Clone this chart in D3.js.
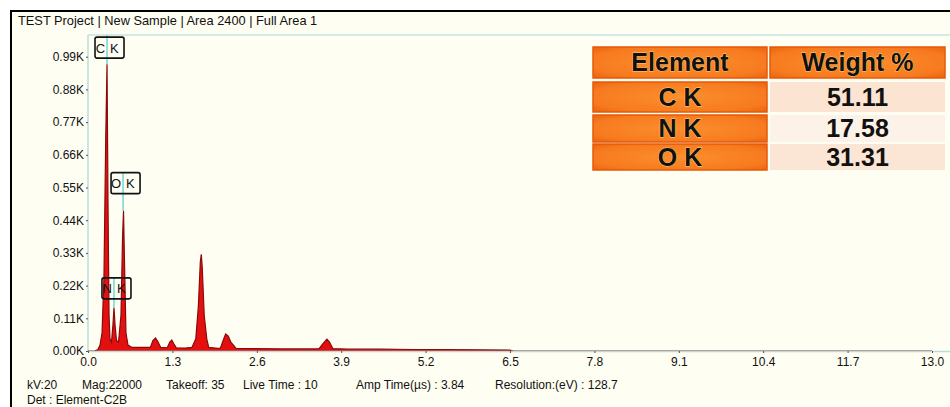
<!DOCTYPE html>
<html><head><meta charset="utf-8">
<script src="https://cdn.jsdelivr.net/npm/d3@7"></script>
<style>
html,body{margin:0;padding:0;background:#fff;}
svg{display:block;}
</style></head>
<body>
<script>
// ---------- DATA ----------
const titleText = "TEST Project | New Sample | Area 2400 | Full Area 1";
const xTicks = [0.0, 1.3, 2.6, 3.9, 5.2, 6.5, 7.8, 9.1, 10.4, 11.7, 13.0];
const yTicks = [0.00, 0.11, 0.22, 0.33, 0.44, 0.55, 0.66, 0.77, 0.88, 0.99];
// spectrum: energy (keV) and counts (K)
const energy = [0.00,0.10,0.154,0.185,0.216,0.246,0.272,0.293,0.308,0.324,0.339,0.362,0.385,0.400,0.416,0.439,0.470,0.508,0.532,0.547,0.562,0.585,0.616,0.678,
  0.80,0.96,1.00,1.04,1.08,1.12,1.22,1.26,1.29,1.32,1.36,1.50,1.60,1.66,1.70,1.73,1.745,1.76,1.79,1.83,1.86,
  2.00,2.04,2.08,2.12,2.16,2.20,2.24,2.28,2.50,3.00,3.50,3.56,3.62,3.68,3.72,3.77,4.00,4.50,5.00,5.50,6.00,6.50,6.55,13.0];
const counts = [0.000,0.000,0.005,0.020,0.060,0.250,0.700,0.965,0.500,0.120,0.040,0.030,0.090,0.145,0.090,0.035,0.030,0.120,0.380,0.472,0.300,0.060,0.020,0.012,
  0.012,0.012,0.035,0.044,0.030,0.012,0.011,0.030,0.037,0.025,0.011,0.010,0.012,0.040,0.150,0.300,0.325,0.280,0.120,0.040,0.012,
  0.009,0.010,0.035,0.057,0.050,0.030,0.020,0.009,0.008,0.007,0.007,0.008,0.025,0.040,0.030,0.008,0.006,0.006,0.005,0.005,0.004,0.003,0.000,0.000];
// peak labels
const peakNames = ["C K", "O K", "N K"];
const peakEnergy = [0.293, 0.540, 0.400];
const peakHeight = [0.965, 0.472, 0.145];
const labelLevel = [1.056, 0.600, 0.246];
// result table
const tableHeader = ["Element", "Weight %"];
const tableElements = ["C K", "N K", "O K"];
const tableWeights = ["51.11", "17.58", "31.31"];
// footer
const footer1 = ["kV:20", "Mag:22000", "Takeoff: 35", "Live Time : 10", "Amp Time(\u00b5s) : 3.84", "Resolution:(eV) : 128.7"];
const footer2 = "Det : Element-C2B";

// ---------- DRAW ----------
const W = 950, H = 407;
const svg = d3.select("body").append("svg").attr("width", W).attr("height", H);

svg.append("rect").attr("x", 0).attr("y", 0).attr("width", W).attr("height", H).attr("fill", "#ffffff");
svg.append("rect").attr("x", 10).attr("y", 10).attr("width", W - 10).attr("height", H - 10).attr("fill", "#fffef3");
svg.append("line").attr("x1", 10).attr("x2", W).attr("y1", 11).attr("y2", 11).attr("stroke", "#000").attr("stroke-width", 2);
svg.append("line").attr("x1", 11).attr("x2", 11).attr("y1", 10).attr("y2", H).attr("stroke", "#000").attr("stroke-width", 2);

svg.append("text").attr("x", 18).attr("y", 25).attr("font-family", "Liberation Sans, Arial, sans-serif")
  .attr("font-size", 12.8).attr("fill", "#111").text(titleText);

const x = d3.scaleLinear().domain([0, 13]).range([88, 932]);
const y = d3.scaleLinear().domain([0, 1.063]).range([351, 35]);

// plot frame lines
svg.append("line").attr("x1", 88).attr("x2", W).attr("y1", 35).attr("y2", 35).attr("stroke", "#c4e4e2").attr("stroke-width", 1.5);
svg.append("line").attr("x1", 88).attr("x2", 88).attr("y1", 35).attr("y2", 351).attr("stroke", "#b8dedc").attr("stroke-width", 1.5);

// spectrum
const pts = energy.map((e, i) => [e, counts[i]]);
const area = d3.area().x(d => x(d[0])).y0(y(0)).y1(d => y(d[1]));
const line = d3.line().x(d => x(d[0])).y(d => y(d[1]));
svg.append("path").datum(pts).attr("d", area).attr("fill", "#e41010");
svg.append("path").datum(pts).attr("d", line).attr("fill", "none").attr("stroke", "#8a0a0a").attr("stroke-width", 1.2);

// x axis baseline
svg.append("line").attr("x1", 88).attr("x2", W).attr("y1", 351.5).attr("y2", 351.5).attr("stroke", "#b8dedc").attr("stroke-width", 1.5);

const fontTick = "Liberation Sans, Arial, sans-serif";
const xAxis = d3.axisBottom(x).tickValues(xTicks).tickSize(2).tickPadding(4).tickFormat(d3.format(".1f"));
const gx = svg.append("g").attr("transform", "translate(0,351)").call(xAxis);
gx.select(".domain").remove();
gx.selectAll("line").attr("stroke", "#555");
gx.selectAll("text").attr("font-family", fontTick).attr("font-size", 12).attr("fill", "#111");

const yAxis = d3.axisLeft(y).tickValues(yTicks).tickSize(2).tickPadding(2).tickFormat(d => d3.format(".2f")(d) + "K");
const gy = svg.append("g").attr("transform", "translate(88,0)").call(yAxis);
gy.select(".domain").remove();
gy.selectAll("line").attr("stroke", "#555");
gy.selectAll("text").attr("font-family", fontTick).attr("font-size", 12).attr("fill", "#111");

// peak labels
peakNames.forEach((name, i) => {
  const px = x(peakEnergy[i]);
  const top = y(labelLevel[i]);
  const lineTop = i === 0 ? 35 : top;
  svg.append("line").attr("x1", px).attr("x2", px).attr("y1", lineTop).attr("y2", y(peakHeight[i]))
    .attr("stroke", "#6fd6d6").attr("stroke-width", 1.5);
  svg.append("rect").attr("x", px - 12).attr("y", top).attr("width", 29).attr("height", 21).attr("rx", 2)
    .attr("fill", "none").attr("stroke", "#111").attr("stroke-width", 1.6);
  const parts = name.split(" ");
  svg.append("text").attr("x", px - 2).attr("y", top + 15.5).attr("text-anchor", "end")
    .attr("font-family", fontTick).attr("font-size", 13).attr("fill", "#111").text(parts[0]);
  svg.append("text").attr("x", px + 3).attr("y", top + 15.5)
    .attr("font-family", fontTick).attr("font-size", 13).attr("fill", "#111").text(parts[1]);
});

// table
const colX = [593, 770], colW = [174, 175];
const rowY = [47, 82, 115, 144], rowH = [31, 30, 27, 26];
const defs = svg.append("defs");
const grad = defs.append("radialGradient").attr("id", "og").attr("cx", "50%").attr("cy", "50%").attr("r", "75%");
grad.append("stop").attr("offset", "0%").attr("stop-color", "#fb8f2e");
grad.append("stop").attr("offset", "70%").attr("stop-color", "#f77a1f");
grad.append("stop").attr("offset", "100%").attr("stop-color", "#e85c0a");
const valueBg = ["#fbe4d2", "#fdf2e7", "#fbe5d4"];
const tFont = "Liberation Sans, Arial, sans-serif";
function cell(cx, cy, w, h, fill, txt) {
  svg.append("rect").attr("x", cx).attr("y", cy).attr("width", w).attr("height", h).attr("fill", fill)
    .attr("stroke", fill.startsWith("url") ? "#e55a08" : "none").attr("stroke-width", 1.5);
  svg.append("text").attr("x", cx + w / 2).attr("y", cy + h / 2 + 8.5).attr("text-anchor", "middle")
    .attr("font-family", tFont).attr("font-weight", "bold").attr("font-size", 25).attr("fill", "#111")
    .attr("stroke", fill.startsWith("url") ? "#ffd27a" : "none").attr("stroke-width", 0.8).attr("paint-order", "stroke")
    .text(txt);
}
tableHeader.forEach((h, j) => cell(colX[j], rowY[0], colW[j], rowH[0], "url(#og)", h));
tableElements.forEach((el, i) => {
  cell(colX[0], rowY[i + 1], colW[0], rowH[i + 1], "url(#og)", el);
  cell(colX[1], rowY[i + 1], colW[1], rowH[i + 1], valueBg[i], tableWeights[i]);
});

// footer
const footX = [27, 82, 166, 243, 356, 495];
footer1.forEach((t, i) => {
  svg.append("text").attr("x", footX[i]).attr("y", 389).attr("font-family", "Liberation Sans, Arial, sans-serif")
    .attr("font-size", 12).attr("fill", "#111").text(t);
});
svg.append("text").attr("x", 27).attr("y", 404).attr("font-family", "Liberation Sans, Arial, sans-serif")
  .attr("font-size", 12).attr("fill", "#111").text(footer2);
</script>
</body></html>
